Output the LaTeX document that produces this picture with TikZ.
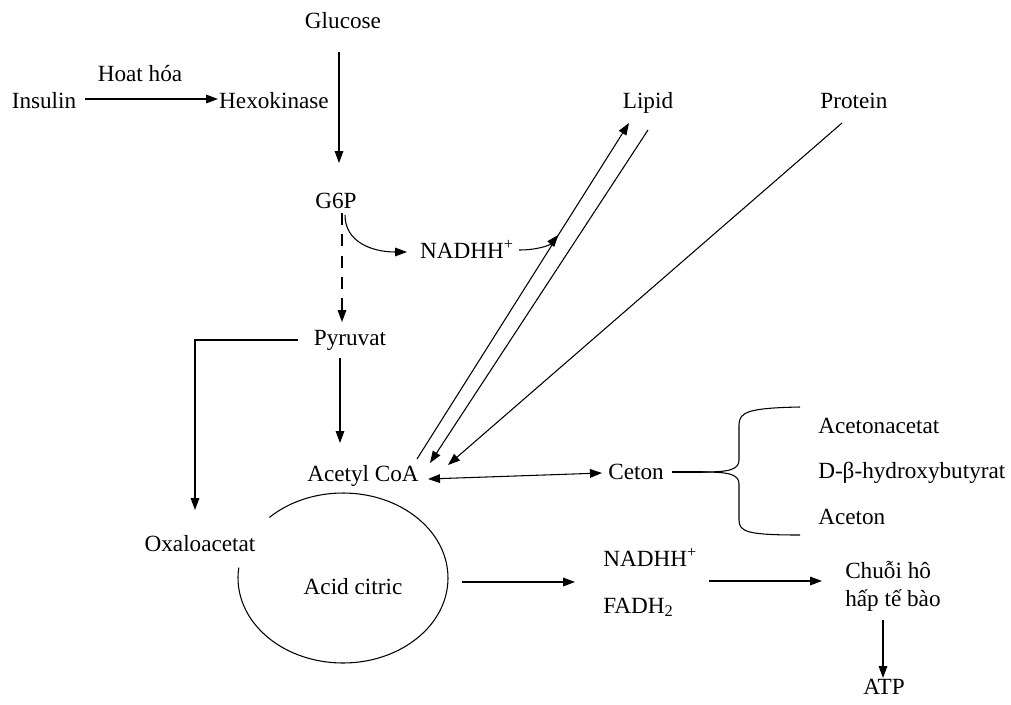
\documentclass[tikz,border=0pt]{standalone}
\usepackage{fontspec}
\setmainfont{Liberation Serif}
\usetikzlibrary{arrows.meta,calc}
\begin{document}
\begin{tikzpicture}[x=0.75pt,y=-0.75pt,
 lbl/.style={font=\fontsize{17.4}{21}\selectfont, inner sep=0pt, text height=0.94em, text depth=0pt},
 mlbl/.style={font=\fontsize{17.4}{21}\selectfont, inner sep=0pt, align=left},
 line/.style={line width=0.8pt},
 arr/.style={line width=0.8pt, -{Triangle[length=9pt,width=6.5pt]}},
 dasharr/.style={arr, dash pattern=on 9pt off 7pt}
 ]
\useasboundingbox (0,0) rectangle (1011,704);
% nodes
\node[lbl] (glucose) at (343,22) {Glucose};
\node[lbl] (hoat) at (140,75) {Hoat hóa};
\node[lbl] (insulin) at (44,102) {Insulin};
\node[lbl] (hexo) at (274,102) {Hexokinase};
\node[lbl] (g6p) at (336,202) {G6P};
\node[lbl] (nadh1) at (467,252) {NADHH\textsuperscript{+}};
\node[lbl] (lipid) at (648,102) {Lipid};
\node[lbl] (protein) at (854,102) {Protein};
\node[lbl] (pyruvat) at (350,339) {Pyruvat};
\node[lbl] (acetyl) at (363,475) {Acetyl CoA};
\node[lbl] (ceton) at (636,473) {Ceton};
\node[lbl, anchor=west] (aceto) at (818,427) {Acetonacetat};
\node[lbl, anchor=west] (dbeta) at (818,472) {D-β-hydroxybutyrat};
\node[lbl, anchor=west] (aceton) at (818,518) {Aceton};
\node[lbl] (oxalo) at (200,545) {Oxaloacetat};
\node[lbl] (citric) at (353,588) {Acid citric};
\node[lbl, anchor=west] (nadh2) at (603,560) {NADHH\textsuperscript{+}};
\node[lbl, anchor=west] (fadh) at (603,607) {FADH\textsubscript{2}};
\node[mlbl, anchor=west] (chuoi) at (845,586) {Chuỗi hô\\hấp tế bào};
\node[lbl] (atp) at (884,688) {ATP};
% connectors
\draw[arr] ($(insulin)+(41,-3)$) -- ($(hexo)+(-56,-3)$);
\draw[arr] ($(glucose)+(-4,30)$) -- ($(g6p)+(3,-39)$);
\draw[dasharr] ($(g6p)+(6,11)$) -- ($(pyruvat)+(-8,-17)$);
\draw[arr] ($(g6p)+(9,13)$) .. controls (345,242) and (372,252) .. ($(nadh1)+(-60,0)$);
\coordinate (upS) at ($(acetyl)+(54,-16)$);
\coordinate (upE) at ($(lipid)+(-19,21)$);
\draw[arr] (upS) -- (upE);
\coordinate (onL) at ($(upS)!0.667!(upE)$);
\draw[arr] ($(nadh1)+(52,-2)$) .. controls (538,250) and (550,245) .. (onL);
\draw[arr] ($(lipid)+(0,28)$) -- ($(acetyl)+(67,-12)$);
\draw[arr] ($(protein)+(-12,21)$) -- ($(acetyl)+(85,-10)$);
\draw[arr] ($(pyruvat)+(-10,19)$) -- ($(acetyl)+(-23,-32)$);
\draw[arr] ($(pyruvat)+(-52,1)$) -| ($(oxalo)+(-5,-35)$);
\draw[arr, {Triangle[length=9pt,width=6.5pt]}-{Triangle[length=9pt,width=6.5pt]}] ($(acetyl)+(65,4)$) -- ($(ceton)+(-34,0)$);
% brace
\coordinate (bt) at ($(ceton)+(67,-1)$);
\draw[line] ($(ceton)+(36,-1)$) -- (bt);
\draw[line] (bt) .. controls (728,472) and (739,470) .. (739,460) -- (739,425) .. controls (739,412) and (748,408) .. (800,407);
\draw[line] (bt) .. controls (728,472) and (739,474) .. (739,484) -- (739,520) .. controls (739,532) and (748,535) .. (800,535);
% citric acid cycle
\coordinate (cc) at (343,578);
\draw[line] ($(cc)+(-134.5:105 and 85)$) arc[start angle=-134.5, end angle=187, x radius=105, y radius=85];
\draw[arr] ($(citric)+(109,-6)$) -- ($(nadh2.west)+(-28,22)$);
\draw[arr] ($(nadh2.west)+(106,21)$) -- ($(chuoi.west)+(-23,-5)$);
\draw[arr] ($(atp)+(-1,-68)$) -- ($(atp)+(-1,-10)$);
\end{tikzpicture}
\end{document}
